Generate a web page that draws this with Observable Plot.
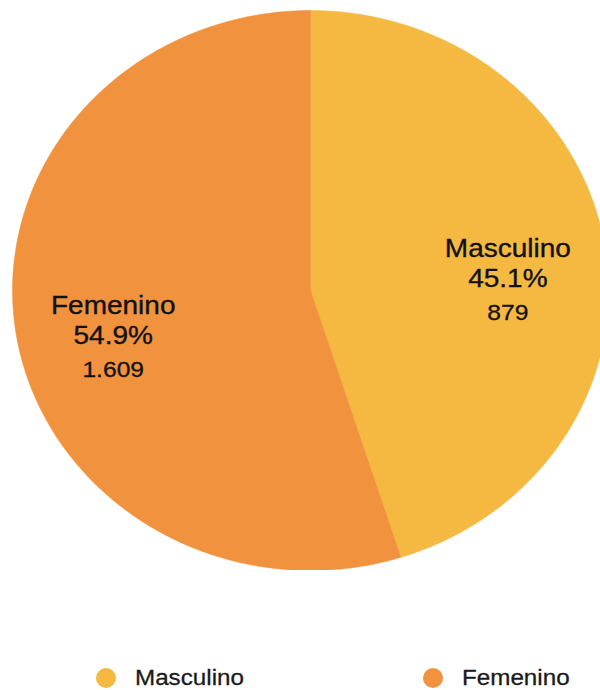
<!DOCTYPE html>
<html>
<head>
<meta charset="utf-8">
<script src="https://cdn.jsdelivr.net/npm/d3@7"></script>
<script src="https://cdn.jsdelivr.net/npm/@observablehq/plot@0.6"></script>
<style>
  html, body { margin: 0; padding: 0; background: #fff; }
  body { width: 600px; height: 690px; overflow: hidden; font-family: "Liberation Sans", Arial, sans-serif; }
  #chart svg text { font-family: "Liberation Sans", Arial, sans-serif; }
  .legend { position: relative; height: 90px; width: 600px; }
  .item { position: absolute; top: 68px; height: 20px; display: flex; align-items: center; font-size: 22px; color: #1a1a1a; }
  .dot { width: 20px; height: 20px; border-radius: 50%; margin-right: 19px; flex: none; }
  .lbl { display: inline-block; transform: scaleX(1.1); transform-origin: left center; -webkit-text-stroke: 0.3px #1a1a1a; }
</style>
</head>
<body>
<div id="chart"></div>
<div class="legend" id="legend"></div>
<script>
const categorias = ["Masculino", "Femenino"];
const porcentajes = [45.1, 54.9];
const conteos = [879, 1609];
const colores = ["#F5B942", "#F0923E"];

const fmtCount = v => d3.format(",")(v).replace(/,/g, ".");
const fmtPct = v => v.toFixed(1) + "%";

// build slices (start at 12 o'clock, clockwise)
const total = d3.sum(porcentajes);
let acc = 0;
const slices = categorias.map((c, i) => {
  const a0 = acc / total * 2 * Math.PI;
  acc += porcentajes[i];
  const a1 = acc / total * 2 * Math.PI;
  return {cat: c, a0, a1, pct: porcentajes[i], n: conteos[i]};
});

const polyPts = [];
for (const s of slices) {
  polyPts.push({cat: s.cat, x: 0, y: 0});
  const steps = Math.max(2, Math.ceil((s.a1 - s.a0) / (Math.PI / 360)));
  for (let k = 0; k <= steps; k++) {
    const a = s.a0 + (s.a1 - s.a0) * k / steps;
    polyPts.push({cat: s.cat, x: Math.sin(a), y: Math.cos(a)});
  }
  polyPts.push({cat: s.cat, x: 0, y: 0});
}

const labelR = 0.67;
const labels = slices.map(s => {
  const m = (s.a0 + s.a1) / 2;
  return {cat: s.cat, x: labelR * Math.sin(m), y: labelR * Math.cos(m), pct: fmtPct(s.pct), n: fmtCount(s.n)};
});

const chart = Plot.plot({
  width: 600,
  height: 600,
  marginTop: 10,
  marginBottom: 30,
  marginLeft: 12,
  marginRight: 0,
  x: {domain: [-1, 0.973], axis: null},
  y: {domain: [-1, 1], axis: null},
  color: {domain: categorias, range: colores},
  marks: [
    Plot.line(polyPts, {x: "x", y: "y", z: "cat", fill: "cat", stroke: "cat", strokeWidth: 0.5, clip: true, curve: "linear"}),
    Plot.text(labels, {x: "x", y: "y", text: "cat", dy: -13, fontSize: 25, fill: "#111", stroke: "#111", strokeWidth: 0.35, className: "wide"}),
    Plot.text(labels, {x: "x", y: "y", text: "pct", dy: 17, fontSize: 25, fill: "#111", stroke: "#111", strokeWidth: 0.35, className: "wide"}),
    Plot.text(labels, {x: "x", y: "y", text: "n", dy: 51, fontSize: 22, fill: "#111", stroke: "#111", strokeWidth: 0.3, className: "wide"})
  ]
});
document.getElementById("chart").appendChild(chart);
// widen each label horizontally around its own anchor
chart.querySelectorAll(".wide text, text.wide").forEach(t => {
  const tr = t.getAttribute("transform");
  if (tr) {
    t.setAttribute("transform", tr + " scale(1.12,1)");
  } else {
    const x = +t.getAttribute("x") || 0, y = +t.getAttribute("y") || 0;
    t.setAttribute("transform", `translate(${x},${y}) scale(1.12,1) translate(${-x},${-y})`);
  }
});

const legend = document.getElementById("legend");
const legendX = [96, 423];
categorias.forEach((c, i) => {
  const item = document.createElement("div");
  item.className = "item";
  item.style.left = legendX[i] + "px";
  const dot = document.createElement("span");
  dot.className = "dot";
  dot.style.background = colores[i];
  const t = document.createElement("span");
  t.className = "lbl";
  t.textContent = c;
  item.appendChild(dot);
  item.appendChild(t);
  legend.appendChild(item);
});
</script>
</body>
</html>
